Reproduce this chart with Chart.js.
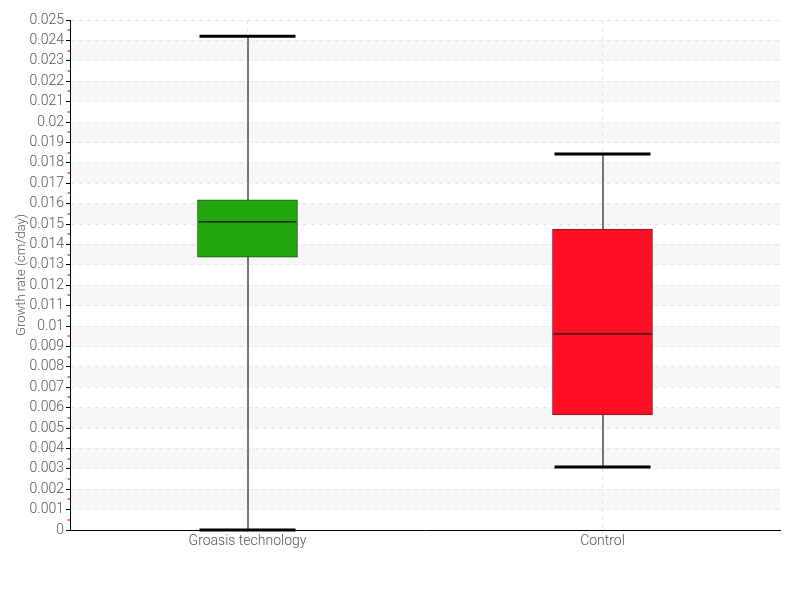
<!DOCTYPE html>
<html>
<head>
<meta charset="utf-8">
<script src="https://cdn.jsdelivr.net/npm/chart.js@4/dist/chart.umd.min.js"></script>
<style>
html,body{margin:0;padding:0;background:#fff;}
#wrap{width:800px;height:600px;}
</style>
</head>
<body>
<div id="wrap"><canvas id="c" width="800" height="600"></canvas></div>
<script>
const categories = ["Groasis technology", "Control"];
const whiskerMin = [0.0000, 0.00309];
const q1 = [0.01338, 0.00564];
const median = [0.0151, 0.00961];
const q3 = [0.01618, 0.01475];
const whiskerMax = [0.0242, 0.01843];
const boxColors = ["#22a70f", "#ff0d24"];
const boxBorders = ["#1e5a14", "#7a1a22"];
const yTickLabels = ["0","0.001","0.002","0.003","0.004","0.005","0.006","0.007","0.008","0.009","0.01","0.011","0.012","0.013","0.014","0.015","0.016","0.017","0.018","0.019","0.02","0.021","0.022","0.023","0.024","0.025"];
const yTitle = "Growth rate (cm/day)";

const FONT = "Roboto, 'Liberation Sans Narrow', sans-serif";

const bandsPlugin = {
  id: 'bands',
  beforeDraw(chart) {
    const {ctx, chartArea, scales} = chart;
    const y = scales.y;
    ctx.save();
    ctx.fillStyle = '#f7f7f7';
    for (let i = 1; i < yTickLabels.length - 1; i += 2) {
      const top = y.getPixelForValue((i + 1) * 0.001);
      const bot = y.getPixelForValue(i * 0.001);
      ctx.fillRect(chartArea.left, top, chartArea.right - chartArea.left, bot - top);
    }
    ctx.restore();
  }
};

const boxPlugin = {
  id: 'boxes',
  beforeDatasetsDraw(chart) {
    const {ctx, scales} = chart;
    ctx.save();
    ctx.strokeStyle = '#777';
    ctx.lineWidth = 2;
    categories.forEach((c, i) => {
      const x = Math.round(scales.x.getPixelForValue(i));
      ctx.beginPath();
      ctx.moveTo(x, scales.y.getPixelForValue(whiskerMax[i]));
      ctx.lineTo(x, scales.y.getPixelForValue(whiskerMin[i]));
      ctx.stroke();
    });
    ctx.restore();
  },
  afterDatasetsDraw(chart) {
    const {ctx, scales} = chart;
    ctx.save();
    categories.forEach((c, i) => {
      const x = scales.x.getPixelForValue(i);
      ctx.strokeStyle = '#000';
      ctx.lineWidth = 3;
      [whiskerMax[i], whiskerMin[i]].forEach(v => {
        const yy = scales.y.getPixelForValue(v);
        ctx.beginPath();
        ctx.moveTo(x - 48, yy);
        ctx.lineTo(x + 48, yy);
        ctx.stroke();
      });
      ctx.strokeStyle = '#151515';
      ctx.lineWidth = 1.2;
      const ym = scales.y.getPixelForValue(median[i]);
      ctx.beginPath();
      ctx.moveTo(x - 49, ym);
      ctx.lineTo(x + 49, ym);
      ctx.stroke();
    });
    ctx.restore();
  },
  afterDraw(chart) {
    const {ctx, scales} = chart;
    const y = scales.y;
    ctx.save();
    ctx.strokeStyle = '#ee3b3b';
    ctx.lineWidth = 1.5;
    for (let i = 0; i < yTickLabels.length - 1; i++) {
      const yy = Math.round(y.getPixelForValue((i + 0.5) * 0.001));
      ctx.beginPath();
      ctx.moveTo(chart.chartArea.left - 2.5, yy);
      ctx.lineTo(chart.chartArea.left, yy);
      ctx.stroke();
    }
    ctx.restore();
  }
};

new Chart(document.getElementById('c'), {
  type: 'bar',
  data: {
    labels: categories,
    datasets: [{
      data: categories.map((c, i) => [q1[i], q3[i]]),
      backgroundColor: boxColors,
      borderColor: boxBorders,
      borderWidth: 1,
      borderSkipped: false,
      barThickness: 100
    }]
  },
  options: {
    responsive: false,
    animation: false,
    layout: { padding: { top: 20, right: 20, left: 0, bottom: 0 } },
    plugins: { legend: { display: false }, tooltip: { enabled: false } },
    scales: {
      x: {
        afterFit(s) { s.height = 70; },
        grid: { offset: false, color: '#e4e4e4', drawTicks: true, tickLength: 3, tickColor: '#e4e4e4' },
        border: { display: true, color: '#000', width: 1, dash: [4, 4] },
        ticks: { color: '#555', font: { family: FONT, size: 14, weight: '300' }, padding: 0 }
      },
      y: {
        min: 0, max: 0.025,
        afterFit(s) { s.width = 70; },
        ticks: {
          stepSize: 0.001,
          autoSkip: false,
          color: '#555',
          font: { family: FONT, size: 14, weight: '300' },
          padding: 2,
          callback: (v, idx) => yTickLabels[idx]
        },
        grid: { color: '#e4e4e4', tickColor: '#000', tickLength: 4 },
        border: { display: true, color: '#000', width: 1, dash: [4, 4] },
        title: { display: true, text: yTitle, color: '#555', font: { family: FONT, size: 13, weight: '300' }, padding: { top: 14, bottom: 0 } }
      }
    }
  },
  plugins: [bandsPlugin, boxPlugin]
});
</script>
</body>
</html>
